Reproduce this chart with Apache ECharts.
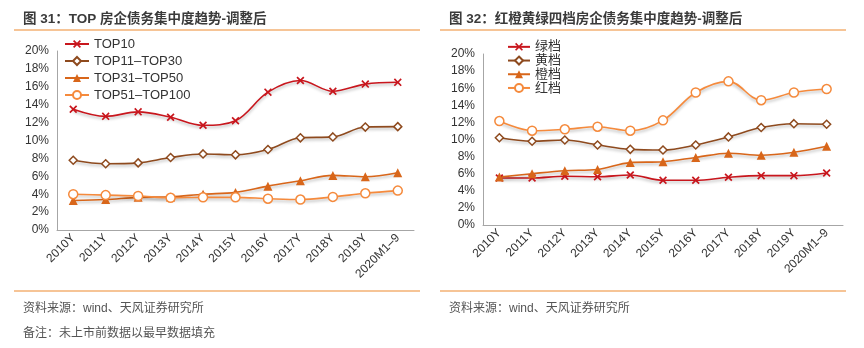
<!DOCTYPE html>
<html><head><meta charset="utf-8">
<script src="https://cdn.jsdelivr.net/npm/echarts@6/dist/echarts.min.js"></script>
<style>html,body{margin:0;padding:0;background:#fff}#c{width:864px;height:348px}</style>
</head><body><div id="c"></div>
<script>
const categories = ['2010Y','2011Y','2012Y','2013Y','2014Y','2015Y','2016Y','2017Y','2018Y','2019Y','2020M1–9'];
const yTicks = {min:0, max:20, interval:2};
// Left chart (%)
const top10      = [13.5, 12.7, 13.2, 12.6, 11.7, 12.2, 15.4, 16.7, 15.5, 16.3, 16.5];
const top11_30   = [7.8, 7.4, 7.5, 8.1, 8.5, 8.4, 9.0, 10.3, 10.4, 11.5, 11.55];
const top31_50   = [3.3, 3.4, 3.65, 3.7, 4.0, 4.2, 4.9, 5.5, 6.1, 5.95, 6.4];
const top51_100  = [4.0, 3.9, 3.8, 3.6, 3.65, 3.65, 3.5, 3.4, 3.7, 4.1, 4.4];
// Right chart (%)
const green  = [5.5, 5.5, 5.7, 5.65, 5.85, 5.23, 5.23, 5.58, 5.77, 5.77, 6.08];
const yellow = [10.2, 9.8, 9.94, 9.36, 8.85, 8.77, 9.36, 10.3, 11.4, 11.85, 11.78];
const orange = [5.6, 6.0, 6.35, 6.5, 7.3, 7.4, 7.9, 8.4, 8.15, 8.5, 9.2];
const red    = [12.16, 11.03, 11.19, 11.5, 11.03, 12.24, 15.5, 16.8, 14.6, 15.5, 15.9];

const C_RED = '#C8161D', C_BROWN = '#8E4A1E', C_ORANGE = '#D8661A', C_LORANGE = '#F58A3C';
const FONT = '"Liberation Sans", Arial, "Noto Sans CJK SC", sans-serif';
const X_PATH = 'path://M0,1.5 L1.5,0 L5,3.5 L8.5,0 L10,1.5 L6.5,5 L10,8.5 L8.5,10 L5,6.5 L1.5,10 L0,8.5 L3.5,5 Z';
const shadow = {shadowColor:'rgba(0,0,0,0.28)', shadowBlur:3, shadowOffsetY:2};

function mkSeries(name, data, idx, color, symbol, size, fill) {
  return {
    name, type:'line', data, xAxisIndex:idx, yAxisIndex:idx, smooth:0.35,
    symbol, symbolSize:size,
    lineStyle:Object.assign({color, width:1.6}, shadow),
    itemStyle:{color: fill ? '#fff' : color, borderColor:color, borderWidth: fill ? 1.5 : 0},
    emphasis:{disabled:true}
  };
}
function xAx(idx){
  return {type:'category', gridIndex:idx, data:categories, boundaryGap:true,
    axisLine:{lineStyle:{color:'#a6a6a6'}},
    axisTick:{inside:true, length:4, lineStyle:{color:'#a6a6a6'}},
    axisLabel:{rotate:45, color:'#333', fontSize:12, fontFamily:FONT, margin:6, interval:0}};
}
function yAx(idx){
  return {type:'value', gridIndex:idx, min:yTicks.min, max:yTicks.max, interval:yTicks.interval,
    axisLine:{show:true, lineStyle:{color:'#a6a6a6'}}, axisTick:{show:false}, splitLine:{show:false},
    axisLabel:{formatter:'{value}%', color:'#333', fontSize:12, fontFamily:FONT, margin:8}};
}
const chart = echarts.init(document.getElementById('c'));
chart.setOption({
  animation:false,
  textStyle:{fontFamily:FONT},
  title:[
    {text:'图 31：TOP 房企债务集中度趋势-调整后', left:18, top:8, textStyle:{fontSize:13.5, fontWeight:'bold', color:'#3a3a3a', fontFamily:FONT}},
    {text:'图 32：红橙黄绿四档房企债务集中度趋势-调整后', left:444, top:8, textStyle:{fontSize:13.5, fontWeight:'bold', color:'#3a3a3a', fontFamily:FONT}},
    {text:'资料来源：wind、天风证券研究所', left:18, top:298, textStyle:{fontSize:12, fontWeight:'normal', color:'#555', fontFamily:FONT}},
    {text:'备注：未上市前数据以最早数据填充', left:18, top:323, textStyle:{fontSize:12, fontWeight:'normal', color:'#555', fontFamily:FONT}},
    {text:'资料来源：wind、天风证券研究所', left:444, top:298, textStyle:{fontSize:12, fontWeight:'normal', color:'#555', fontFamily:FONT}}
  ],
  graphic:[
    {type:'line', shape:{x1:14,y1:30,x2:420,y2:30}, style:{stroke:'#EE8A2E', lineWidth:1.2}},
    {type:'line', shape:{x1:440,y1:30,x2:846,y2:30}, style:{stroke:'#EE8A2E', lineWidth:1.2}},
    {type:'line', shape:{x1:14,y1:291,x2:420,y2:291}, style:{stroke:'#EE8A2E', lineWidth:1.2}},
    {type:'line', shape:{x1:440,y1:291,x2:846,y2:291}, style:{stroke:'#EE8A2E', lineWidth:1.2}}
  ],
  legend:[
    {data:['TOP10','TOP11–TOP30','TOP31–TOP50','TOP51–TOP100'], orient:'vertical', left:64, top:37, padding:0,
     itemWidth:24, itemHeight:10, itemGap:3, textStyle:{fontSize:13, lineHeight:14, color:'#333', fontFamily:FONT}},
    {data:['绿档','黄档','橙档','红档'], orient:'vertical', left:507, top:40, padding:0,
     itemWidth:22, itemHeight:10, itemGap:0, textStyle:{fontSize:13, lineHeight:13.7, color:'#333', fontFamily:FONT}}
  ],
  grid:[
    {left:57, top:51, width:357, height:179},
    {left:483, top:54, width:360, height:171}
  ],
  xAxis:[xAx(0), xAx(1)],
  yAxis:[yAx(0), yAx(1)],
  series:[
    mkSeries('TOP10', top10, 0, C_RED, X_PATH, 8, false),
    mkSeries('TOP11–TOP30', top11_30, 0, C_BROWN, 'diamond', 8, true),
    mkSeries('TOP31–TOP50', top31_50, 0, C_ORANGE, 'triangle', 9, false),
    mkSeries('TOP51–TOP100', top51_100, 0, C_LORANGE, 'circle', 9, true),
    mkSeries('绿档', green, 1, C_RED, X_PATH, 8, false),
    mkSeries('黄档', yellow, 1, C_BROWN, 'diamond', 8, true),
    mkSeries('橙档', orange, 1, C_ORANGE, 'triangle', 9, false),
    mkSeries('红档', red, 1, C_LORANGE, 'circle', 9, true)
  ]
});
</script></body></html>
